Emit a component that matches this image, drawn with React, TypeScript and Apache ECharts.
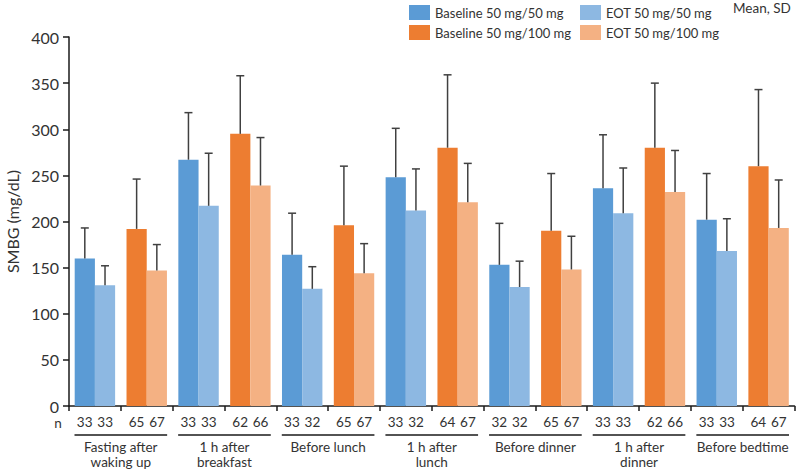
import React, { useEffect, useRef } from "react";
import * as echarts from "echarts";

const groupLabels = [
  "Fasting after\nwaking up",
  "1 h after\nbreakfast",
  "Before lunch",
  "1 h after\nlunch",
  "Before dinner",
  "1 h after\ndinner",
  "Before bedtime",
];

const seriesNames = [
  "Baseline 50 mg/50 mg",
  "EOT 50 mg/50 mg",
  "Baseline 50 mg/100 mg",
  "EOT 50 mg/100 mg",
];
const seriesColors = ["#5B9BD5", "#8DB8E2", "#ED7D31", "#F4B183"];

const meanBase5050 = [160, 267, 164, 248, 153, 236, 202];
const meanEot5050 = [131, 217, 127, 212, 129, 209, 168];
const meanBase50100 = [192, 295, 196, 280, 190, 280, 260];
const meanEot50100 = [147, 239, 144, 221, 148, 232, 193];

const sdBase5050 = [33, 51, 45, 53, 45, 58, 50];
const sdEot5050 = [21, 57, 24, 45, 28, 49, 35];
const sdBase50100 = [54, 63, 64, 79, 62, 70, 83];
const sdEot50100 = [28, 52, 32, 42, 36, 45, 52];

const nBase5050 = [33, 33, 33, 33, 32, 33, 33];
const nEot5050 = [33, 33, 32, 32, 32, 33, 33];
const nBase50100 = [65, 62, 65, 64, 65, 62, 64];
const nEot50100 = [67, 66, 67, 67, 67, 66, 67];

const yTicks = { min: 0, max: 400, interval: 50 };

const FONT = "Lato";
const TEXT = "#333333";
const GAP = 0.22;

export default function App() {
  const ref = useRef<HTMLDivElement>(null);
  useEffect(() => {
    if (!ref.current) return;
    const chart = echarts.init(ref.current, undefined, { renderer: "svg" });

    const nPairs = groupLabels.length * 2;
    const pairLabels: string[] = [];
    const left50: any[] = [];
    const left100: any[] = [];
    const right50: any[] = [];
    const right100: any[] = [];
    const errLeft: number[][] = [];
    const errRight: number[][] = [];
    for (let i = 0; i < nPairs; i++) {
      const g = Math.floor(i / 2);
      const hi = i % 2 === 1;
      const nl = hi ? nBase50100[g] : nBase5050[g];
      const nr = hi ? nEot50100[g] : nEot5050[g];
      pairLabels.push(`{a|${nl}}{a|${nr}}`);
      left50.push(hi ? "-" : meanBase5050[g]);
      left100.push(hi ? meanBase50100[g] : "-");
      right50.push(hi ? "-" : meanEot5050[g]);
      right100.push(hi ? meanEot50100[g] : "-");
      errLeft.push([i, hi ? meanBase50100[g] : meanBase5050[g], hi ? sdBase50100[g] : sdBase5050[g]]);
      errRight.push([i, hi ? meanEot50100[g] : meanEot5050[g], hi ? sdEot50100[g] : sdEot5050[g]]);
    }

    const makeErr = (sign: number) => (params: any, api: any) => {
      const x = api.value(0);
      const m = api.value(1);
      const sd = api.value(2);
      const base = api.coord([x, m]);
      const top = api.coord([x, m + sd]);
      const band = api.size([1, 0])[0];
      const cx = base[0] + (sign * band * (1 - GAP)) / 4;
      const style = { stroke: "#404040", lineWidth: 1.5 };
      return {
        type: "group",
        children: [
          { type: "line", shape: { x1: cx, y1: base[1], x2: cx, y2: top[1] }, style },
          { type: "line", shape: { x1: cx - 4, y1: top[1], x2: cx + 4, y2: top[1] }, style },
        ],
      };
    };

    const barSeries = (name: string, data: any[], stack: string, color: string) => ({
      name,
      type: "bar",
      stack,
      data,
      barCategoryGap: `${GAP * 100}%`,
      barGap: "0%",
      itemStyle: { color },
      xAxisIndex: 0,
      yAxisIndex: 0,
    });

    const legendCommon = {
      orient: "vertical",
      top: 0,
      itemWidth: 21,
      itemHeight: 15,
      itemGap: 5,
      selectedMode: false,
      icon: "rect",
      textStyle: { fontFamily: FONT, fontSize: 13, color: TEXT },
    };

    chart.setOption({
      animation: false,
      textStyle: { fontFamily: FONT },
      grid: { left: 69, right: 2.5, top: 37, bottom: 64, containLabel: false, outerBoundsMode: "none" },
      legend: [
        { ...legendCommon, left: 404, data: [seriesNames[0], seriesNames[2]] },
        { ...legendCommon, left: 575, data: [seriesNames[1], seriesNames[3]] },
      ],
      xAxis: [
        {
          type: "category",
          data: pairLabels,
          boundaryGap: true,
          axisLine: { lineStyle: { color: "#1a1a1a", width: 1.5 } },
          axisTick: { show: true, interval: 0, length: 5, lineStyle: { color: "#1a1a1a", width: 1.5 } },
          axisLabel: {
            interval: 0,
            margin: 9,
            fontFamily: FONT,
            fontSize: 13.5,
            color: TEXT,
            rich: { a: { width: 20.5, align: "center", fontFamily: FONT, fontSize: 13.5, color: TEXT } },
          },
        },
        {
          type: "category",
          data: groupLabels,
          position: "bottom",
          boundaryGap: true,
          axisLine: { show: false },
          axisTick: { show: false },
          axisLabel: {
            interval: 0,
            margin: 33,
            fontFamily: FONT,
            fontSize: 13.5,
            lineHeight: 15,
            color: TEXT,
          },
        },
      ],
      yAxis: {
        type: "value",
        min: yTicks.min,
        max: yTicks.max,
        interval: yTicks.interval,
        name: "SMBG (mg/dL)",
        nameLocation: "middle",
        nameGap: 45,
        nameTextStyle: { fontFamily: FONT, fontSize: 16, color: TEXT },
        axisLine: { show: true, lineStyle: { color: "#1a1a1a", width: 1.5 } },
        axisTick: { show: true, length: 6, lineStyle: { color: "#1a1a1a", width: 1.5 } },
        axisLabel: { margin: 10, fontFamily: FONT, fontSize: 16, color: TEXT },
        splitLine: { show: false },
      },
      series: [
        barSeries(seriesNames[0], left50, "left", seriesColors[0]),
        barSeries(seriesNames[2], left100, "left", seriesColors[2]),
        barSeries(seriesNames[1], right50, "right", seriesColors[1]),
        barSeries(seriesNames[3], right100, "right", seriesColors[3]),
        { type: "custom", data: errLeft, renderItem: makeErr(-1), z: 5, encode: { x: 0, y: 1 }, silent: true },
        { type: "custom", data: errRight, renderItem: makeErr(1), z: 5, encode: { x: 0, y: 1 }, silent: true },
      ],
    });

    const y0 = chart.convertToPixel({ yAxisIndex: 0 }, 0) as number;
    const c0 = chart.convertToPixel({ xAxisIndex: 1 }, 0) as number;
    const c1 = chart.convertToPixel({ xAxisIndex: 1 }, 1) as number;
    const band = c1 - c0;
    const lines = groupLabels.map((_, g) => {
      const c = chart.convertToPixel({ xAxisIndex: 1 }, g) as number;
      return {
        type: "line",
        shape: { x1: c - band / 2 + 5.5, y1: y0 + 29, x2: c + band / 2 - 5.5, y2: y0 + 29 },
        style: { stroke: "#1a1a1a", lineWidth: 1.5 },
      };
    });
    chart.setOption({
      graphic: [
        ...lines,
        {
          type: "text",
          x: 58,
          y: y0 + 17,
          style: { text: "n", fontFamily: FONT, fontSize: 13.5, fill: TEXT, align: "center", verticalAlign: "middle" },
        },
        {
          type: "text",
          x: 733,
          y: 8,
          style: { text: "Mean, SD", fontFamily: FONT, fontSize: 13.5, fill: TEXT, align: "left", verticalAlign: "middle" },
        },
      ],
    });

    return () => chart.dispose();
  }, []);
  return <div ref={ref} style={{ width: 797, height: 470, position: "absolute", left: 0, top: 0 }} />;
}
